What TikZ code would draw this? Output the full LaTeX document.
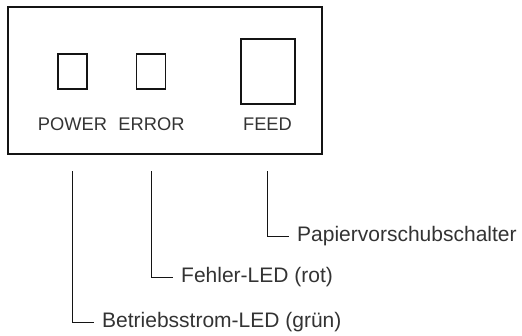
\documentclass[tikz,border=0pt]{standalone}
\usepackage{fontspec}
\setmainfont{Liberation Sans}
\definecolor{inkline}{RGB}{20,20,20}
\definecolor{inktext}{RGB}{51,51,51}
\tikzset{
  panelbox/.style={rectangle, draw=inkline, line width=2pt, inner sep=0pt,
                   minimum width=314pt, minimum height=147pt},
  ledbox/.style={rectangle, draw=inkline, line width=1.6pt, inner sep=0pt,
                 minimum width=29pt, minimum height=35pt},
  keybox/.style={ledbox, minimum width=54pt, minimum height=65pt},
  paneltext/.style={font=\fontsize{18.3}{22}\selectfont, text=inktext, inner sep=0pt},
  calltext/.style={font=\fontsize{21}{25}\selectfont, text=inktext, anchor=west,
                   inner xsep=8pt, inner ysep=0pt, text height=15pt, text depth=4.5pt},
  callline/.style={draw=inkline, line width=1pt},
}
\begin{document}
\begin{tikzpicture}[x=1pt,y=-1pt]
  \useasboundingbox (0,0) rectangle (522,335);
  % front panel
  \node[panelbox] (panel) at (165,80.5) {};
  \node[ledbox] (pwr) at (72.5,71.5) {};
  \node[ledbox] (err) at (151,71.5) {};
  \node[keybox] (feed) at (268,71.5) {};
  \node[paneltext] (pwrlbl) at (72.5,124) {POWER};
  \node[paneltext] (errlbl) at (151.5,124) {ERROR};
  \node[paneltext] (feedlbl) at (267.5,124) {FEED};
  % callouts
  \coordinate (pwrtop) at (72.5,171);
  \coordinate (errtop) at (151.5,171);
  \coordinate (feedtop) at (267.5,171);
  \node[calltext] (feedcall) at (289,236) {Papiervorschubschalter};
  \node[calltext] (errcall) at (173,277) {Fehler-LED (rot)};
  \node[calltext] (pwrcall) at (94,322) {Betriebsstrom-LED (grün)};
  \draw[callline] (feedtop) |- (feedcall.west);
  \draw[callline] (errtop) |- (errcall.west);
  \draw[callline] (pwrtop) |- (pwrcall.west);
\end{tikzpicture}
\end{document}
